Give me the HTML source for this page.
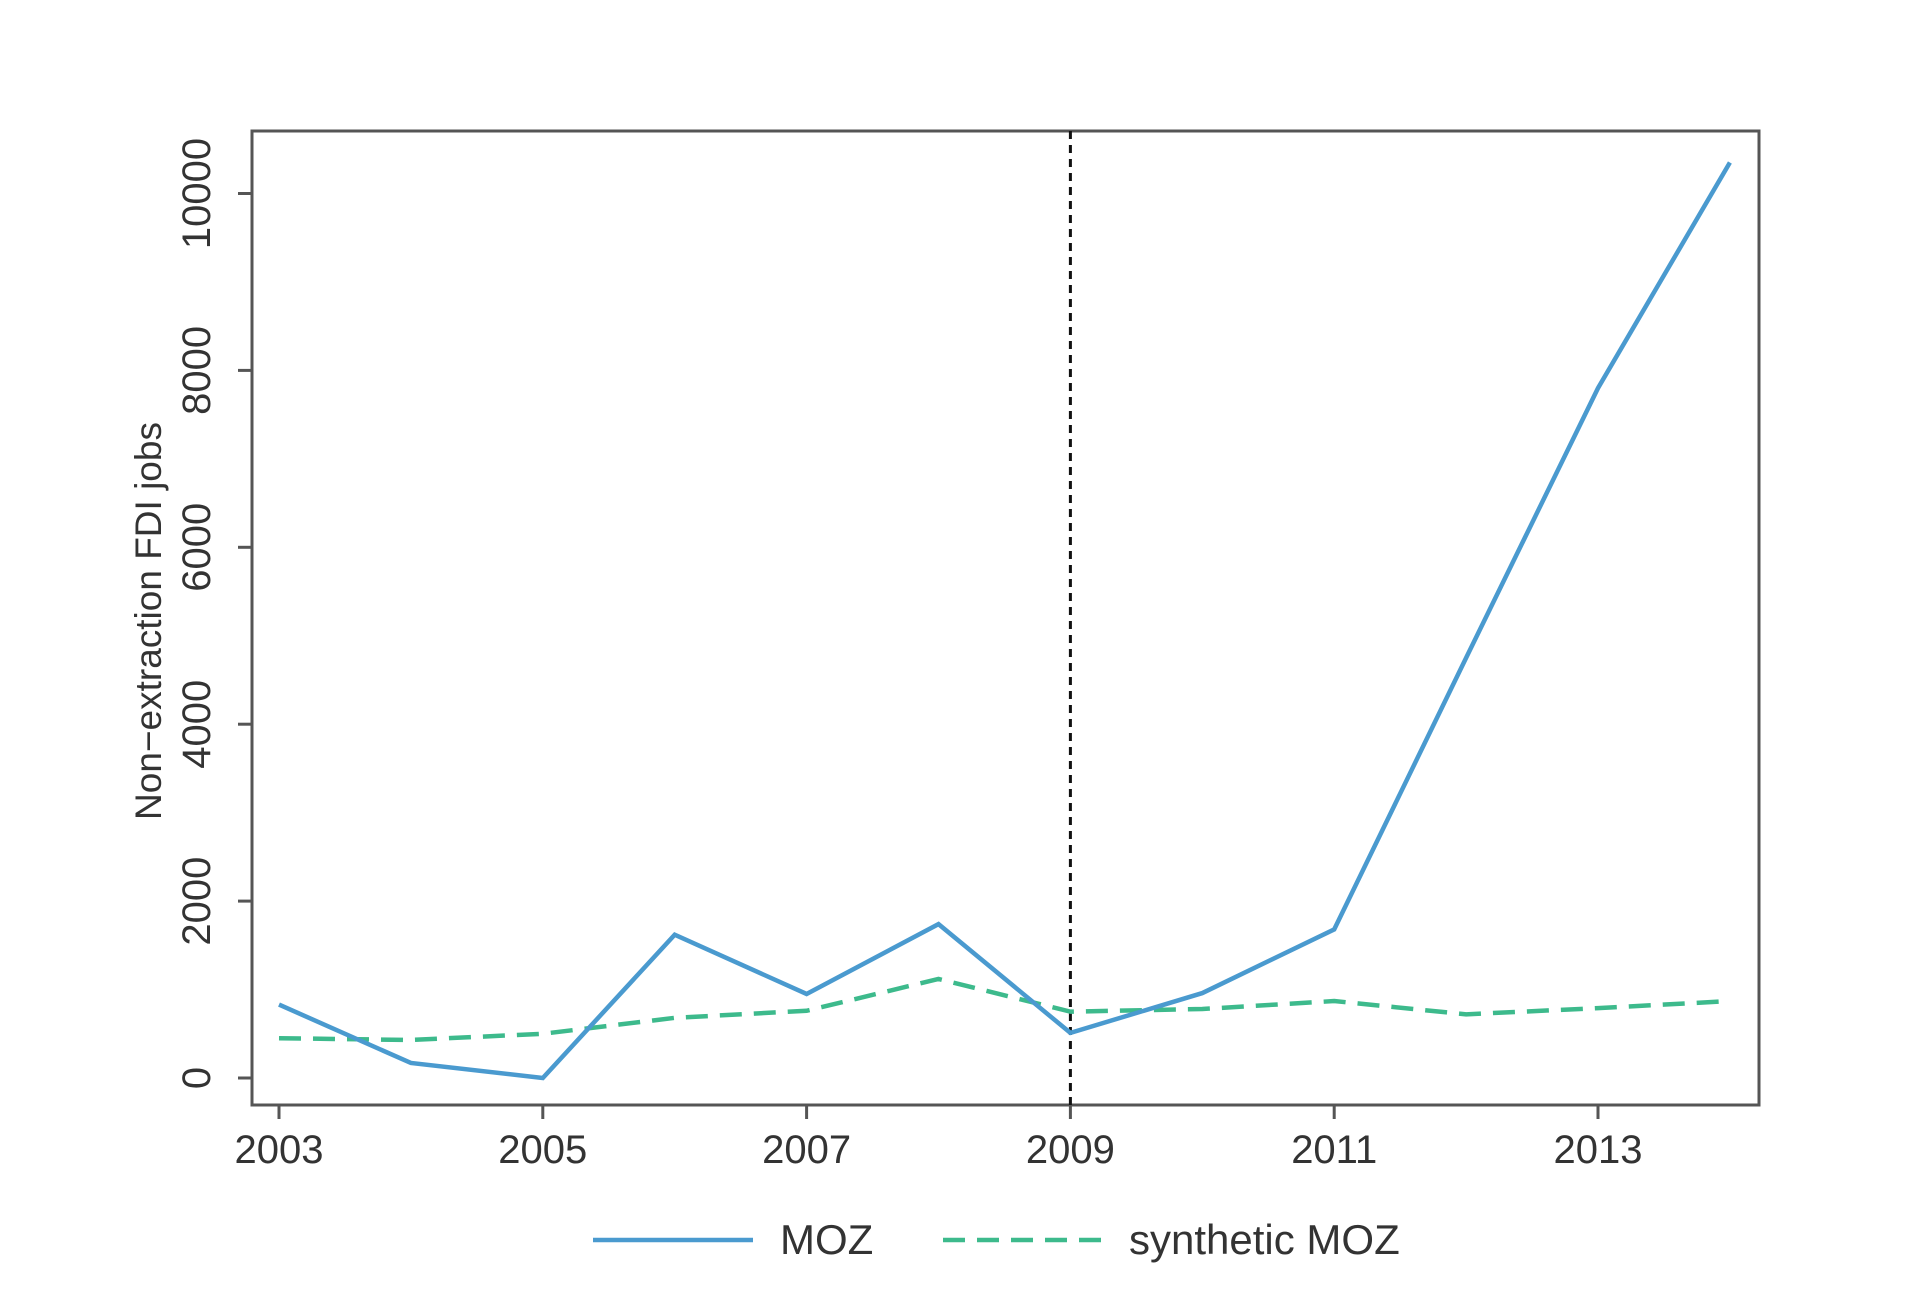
<!DOCTYPE html>
<html><head><meta charset="utf-8"><style>
html,body{margin:0;padding:0;background:#fff;}
svg{display:block;font-family:"Liberation Sans",sans-serif;}
</style></head><body>
<svg id="chart" width="1920" height="1309" viewBox="0 0 1920 1309">
<rect x="252" y="131" width="1507" height="974" fill="none" stroke="#555" stroke-width="3"/>
<g id="xaxis"></g>
<g id="yaxis"></g>
<text x="161" y="621" transform="rotate(-90 161 621)" text-anchor="middle" font-size="37" fill="#333">Non−extraction FDI jobs</text>
<g id="marks"></g>
<g>
<line x1="593" y1="1240" x2="753" y2="1240" stroke="#4a9acf" stroke-width="4.5"/>
<text x="780" y="1254" font-size="42" fill="#333">MOZ</text>
<line x1="943" y1="1240" x2="1108" y2="1240" stroke="#3dba8c" stroke-width="4.5" stroke-dasharray="22,12"/>
<text x="1129" y="1254" font-size="42" fill="#333">synthetic MOZ</text>
</g>
</svg>
<script>
const years=[2003,2004,2005,2006,2007,2008,2009,2010,2011,2012,2013,2014];
const moz=[830,170,0,1620,950,1740,510,960,1680,4750,7800,10350];
const synthetic=[450,430,500,680,760,1120,750,780,870,720,790,870];
const xTicks=[2003,2005,2007,2009,2011,2013];
const yTicks=[0,2000,4000,6000,8000,10000];
const treatYear=2009;
const NS='http://www.w3.org/2000/svg';
function X(y){return 279+(y-2003)*131.9;}
function Y(v){return 1078-v*0.08845;}
function mk(tag,attrs,parent){const e=document.createElementNS(NS,tag);for(const k in attrs)e.setAttribute(k,attrs[k]);parent.appendChild(e);return e;}
const xa=document.getElementById('xaxis'),ya=document.getElementById('yaxis'),m=document.getElementById('marks');
xTicks.forEach(t=>{
 const l=mk('line',{x1:X(t),x2:X(t),y1:1105,y2:1119,stroke:'#555','stroke-width':3},xa);
 
 
 const tx=mk('text',{x:X(t),y:1163,'text-anchor':'middle','font-size':40,fill:'#333'},xa);
 tx.textContent=t;
 
 
});
yTicks.forEach(t=>{
 const l=mk('line',{x1:238,x2:252,y1:Y(t),y2:Y(t),stroke:'#555','stroke-width':3},ya);
 
 
 const tx=mk('text',{x:210,y:Y(t),'text-anchor':'middle','font-size':40,fill:'#333',transform:`rotate(-90 210 ${Y(t)})`},ya);
 tx.textContent=t;
 
 
});
const vl=mk('line',{x1:X(treatYear),x2:X(treatYear),y1:131,y2:1105,stroke:'#111','stroke-width':3,'stroke-dasharray':'8,6'},m);


const ps=mk('polyline',{points:years.map((y,i)=>X(y)+','+Y(synthetic[i])).join(' '),fill:'none',stroke:'#3dba8c','stroke-width':4.5,'stroke-dasharray':'22,12'},m);


const pm=mk('polyline',{points:years.map((y,i)=>X(y)+','+Y(moz[i])).join(' '),fill:'none',stroke:'#4a9acf','stroke-width':4.5},m);


</script>
</body></html>
